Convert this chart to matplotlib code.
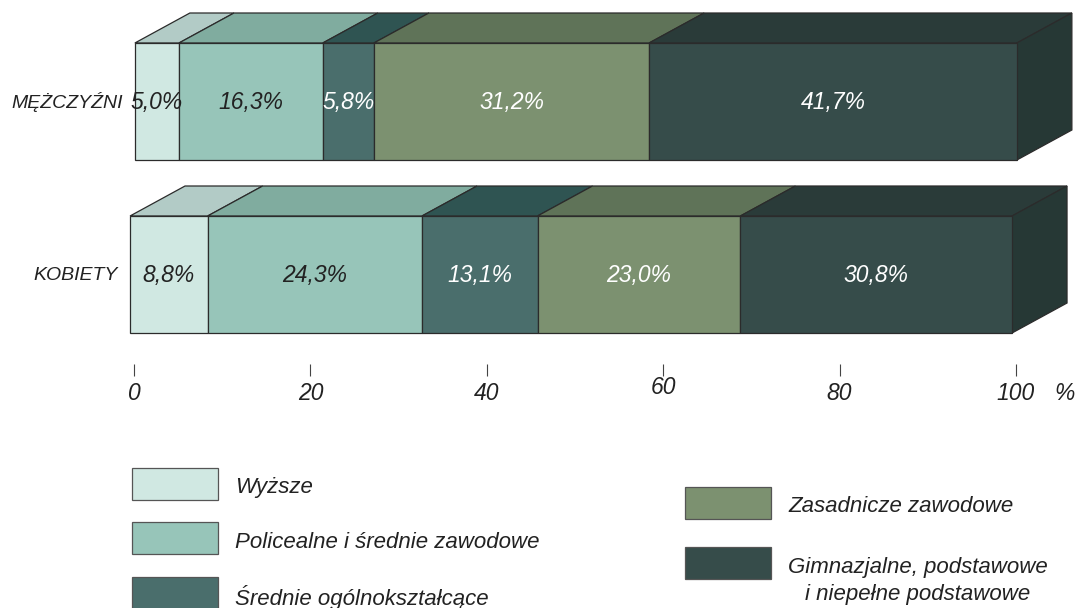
import numpy as np
import matplotlib
matplotlib.use('Agg')
import matplotlib.pyplot as plt
from matplotlib.patches import Polygon, Rectangle

plt.rcParams['font.family'] = ['Liberation Sans', 'DejaVu Sans']

# data
groups = ['MĘŻCZYŹNI', 'KOBIETY']
categories = ['Wyższe', 'Policealne i średnie zawodowe', 'Średnie ogólnokształcące',
              'Zasadnicze zawodowe', 'Gimnazjalne, podstawowe\ni niepełne podstawowe']
men = [5.0, 16.3, 5.8, 31.2, 41.7]
women = [8.8, 24.3, 13.1, 23.0, 30.8]
ticks = [0, 20, 40, 60, 80, 100]

front_colors = ['#d0e8e2', '#97c5b9', '#4a6e6c', '#7c9170', '#364c4a']
top_colors = ['#b2cbc6', '#80ac9f', '#2f5452', '#5f7358', '#2a3b39']
side_color = '#263835'
text_colors = ['#222222', '#222222', 'white', 'white', 'white']
edge = '#2b2b2b'

PX = 8.82          # pixels per percent
DX = 55 / PX       # depth offset in percent units
DY = -30           # depth offset in pixels
BAR_H = 117
row_y = [101.5, 274.5]
row_shift = [0.1, -0.45]

fig = plt.figure(figsize=(10.76, 6.08), dpi=100)
ax = fig.add_axes([0, 0, 1, 1])
ax.set_xlim(-134 / PX, (1076 - 134) / PX)
ax.set_ylim(608, 0)
ax.axis('off')

for yc, vals, shift, name in zip(row_y, [men, women], row_shift, groups):
    vals = np.array(vals)
    lefts = np.concatenate([[0], np.cumsum(vals)[:-1]]) + shift
    rights = lefts + vals
    top, bot = yc - BAR_H / 2, yc + BAR_H / 2
    # top faces
    for l, r, c in zip(lefts, rights, top_colors):
        ax.add_patch(Polygon([(l, top), (l + DX, top + DY), (r + DX, top + DY), (r, top)],
                             closed=True, facecolor=c, edgecolor=edge, lw=0.9))
    # right side face
    r = rights[-1]
    ax.add_patch(Polygon([(r, top), (r + DX, top + DY), (r + DX, bot + DY), (r, bot)],
                         closed=True, facecolor=side_color, edgecolor=edge, lw=0.9))
    # front faces
    ax.barh(yc, vals, left=lefts, height=BAR_H, color=front_colors,
            edgecolor=edge, linewidth=0.9)
    for l, v, tc in zip(lefts, vals, text_colors):
        ax.text(l + v / 2, yc + 1, f'{v:.1f}%'.replace('.', ','), ha='center', va='center',
                fontsize=16.5, style='italic', color=tc)
    ax.text(lefts[0] - 12 / PX, yc + 1, name, ha='right', va='center',
            fontsize=14, style='italic', color='#222222')

# axis ticks
ax.vlines(ticks, 364, 376, color='#444444', lw=0.8)
for t in ticks:
    ax.text(t, 387 if t == 60 else 393, str(t), ha='center', va='center',
            fontsize=16.5, style='italic', color='#222222')
ax.text(105.5, 393, '%', ha='center', va='center', fontsize=16.5, style='italic', color='#222222')

# legend
leg_pos = [(132, 484), (132, 538), (132, 593), (685, 503), (685, 563)]
for (px, py), c, lab in zip(leg_pos, front_colors, categories):
    x0 = (px - 134) / PX
    ax.add_patch(Rectangle((x0, py - 16), 86 / PX, 32, facecolor=c,
                           edgecolor='#555555', lw=0.9))
    ax.text(x0 + 103 / PX, py + (18 if '\n' in lab else 4), lab, ha='left', va='center',
            fontsize=16, style='italic', color='#222222', multialignment='center',
            linespacing=1.35)

fig.savefig('out.png', dpi=100)
